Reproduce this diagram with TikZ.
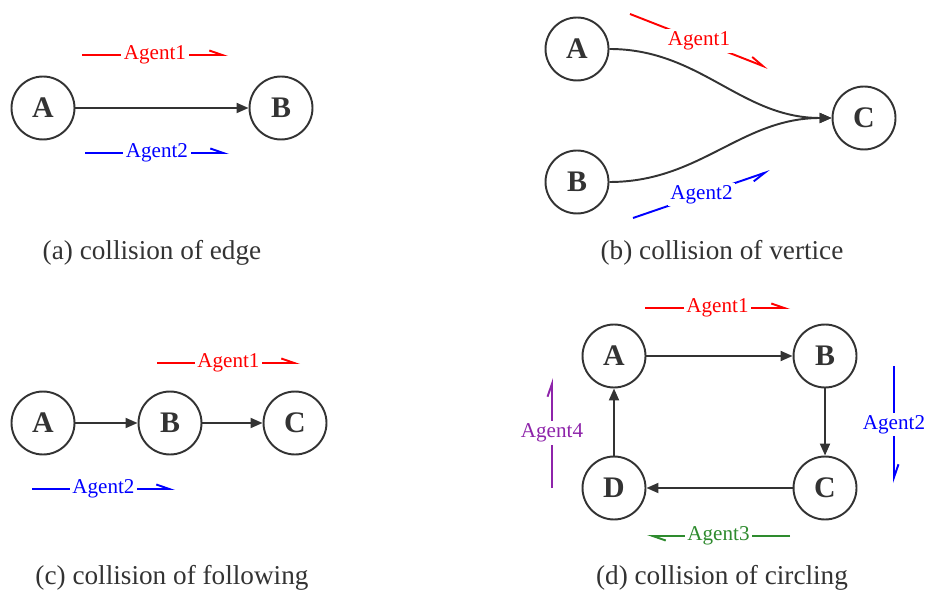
\documentclass[tikz,border=0pt]{standalone}
\usepackage{fontspec}
\setmainfont{Liberation Serif}
\usetikzlibrary{arrows.meta}
\definecolor{ink}{HTML}{333333}
\definecolor{agred}{HTML}{FF0000}
\definecolor{agblue}{HTML}{0000FF}
\definecolor{aggreen}{HTML}{2E8B2E}
\definecolor{agpurple}{HTML}{8E24AA}
\tikzset{
  vtx/.style={circle,draw=ink,line width=1.1pt,minimum size=1.26cm,inner sep=0pt,text=ink,font=\fontsize{17}{17}\selectfont\bfseries},
  edg/.style={-{Triangle[length=2.4mm,width=2mm]},draw=ink,line width=1.1pt},
  agt/.style={-{Straight Barb[harpoon,length=2.6mm,width=1.8mm]},line width=1.1pt,draw=#1},
  agtr/.style={-{Straight Barb[harpoon,swap,length=2.6mm,width=1.8mm]},line width=1.1pt,draw=#1},
  agtxt/.style={fill=white,inner sep=1.5pt,text=#1,font=\fontsize{12}{12}\selectfont},
  subcap/.style={text=ink,font=\fontsize{15.5}{15.5}\selectfont},
}

\begin{document}
\begin{tikzpicture}[x=0.02cm,y=-0.02cm]
\useasboundingbox (0,0) rectangle (928,597);
% (a) edge
\node[vtx] (aA) at (43,108)  {A};
\node[vtx] (aB) at (281,108) {B};
\draw[edg] (aA) -- (aB);
\coordinate (a1s) at (82,55);  \coordinate (a1e) at (228,55);
\coordinate (a2s) at (85,153); \coordinate (a2e) at (229,153);
\draw[agt=agred]  (a1s) -- node[agtxt=agred]{Agent1} (a1e);
\draw[agt=agblue] (a2s) -- node[agtxt=agblue]{Agent2} (a2e);
\node[subcap] (capa) at (152,253) {(a) collision of edge};
% (b) vertice
\node[vtx] (bA) at (577,49)  {A};
\node[vtx] (bB) at (577,182) {B};
\node[vtx] (bC) at (864,118) {C};
\draw[edg] (bA) to[out=0,in=180] (bC);
\draw[edg] (bB) to[out=0,in=180] (bC);
\coordinate (b1s) at (630,14);  \coordinate (b1e) at (768,68);
\coordinate (b2s) at (633,218); \coordinate (b2e) at (770,171);
\draw[agt=agred]   (b1s) -- node[agtxt=agred]{Agent1} (b1e);
\draw[agtr=agblue] (b2s) -- node[agtxt=agblue]{Agent2} (b2e);
\node[subcap] (capb) at (722,253) {(b) collision of vertice};
% (c) following
\node[vtx] (cA) at (43,423)  {A};
\node[vtx] (cB) at (170,423) {B};
\node[vtx] (cC) at (295,423) {C};
\draw[edg] (cA) -- (cB); \draw[edg] (cB) -- (cC);
\coordinate (c1s) at (157,363); \coordinate (c1e) at (300,363);
\coordinate (c2s) at (32,489);  \coordinate (c2e) at (175,489);
\draw[agt=agred]  (c1s) -- node[agtxt=agred]{Agent1} (c1e);
\draw[agt=agblue] (c2s) -- node[agtxt=agblue]{Agent2} (c2e);
\node[subcap] (capc) at (172,578) {(c) collision of following};
% (d) circling
\node[vtx] (dA) at (614,356) {A};
\node[vtx] (dB) at (825,356) {B};
\node[vtx] (dC) at (825,488) {C};
\node[vtx] (dD) at (614,488) {D};
\draw[edg] (dA) -- (dB); \draw[edg] (dB) -- (dC); \draw[edg] (dC) -- (dD); \draw[edg] (dD) -- (dA);
\coordinate (d1s) at (645,308); \coordinate (d1e) at (790,308);
\coordinate (d2s) at (894,366); \coordinate (d2e) at (894,483);
\coordinate (d3s) at (790,536); \coordinate (d3e) at (647,536);
\coordinate (d4s) at (552,488); \coordinate (d4e) at (552,378);
\draw[agt=agred]    (d1s) -- node[agtxt=agred]{Agent1} (d1e);
\draw[agt=agblue]   (d2s) -- node[agtxt=agblue]{Agent2} (d2e);
\draw[agt=aggreen]  (d3s) -- node[agtxt=aggreen]{Agent3} (d3e);
\draw[agt=agpurple] (d4s) -- node[agtxt=agpurple]{Agent4} (d4e);
\node[subcap] (capd) at (722,578) {(d) collision of circling};
\end{tikzpicture}
\end{document}
